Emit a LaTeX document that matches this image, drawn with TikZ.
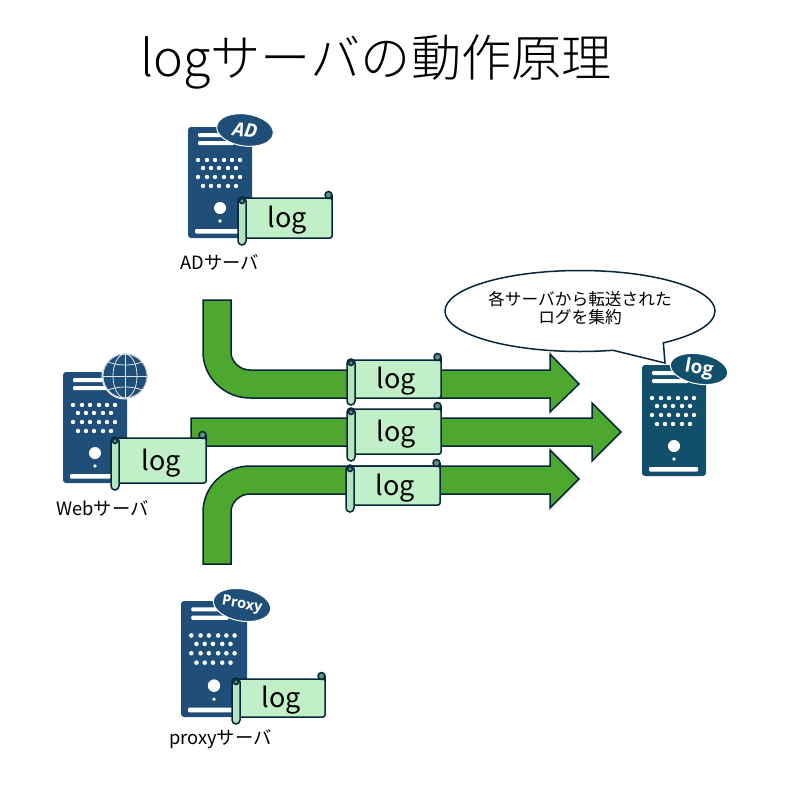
\documentclass[tikz,border=0pt]{standalone}
\usepackage{fontspec}
\setmainfont{Noto Sans CJK JP}
\newfontfamily\titlefont{Noto Sans CJK JP Light}
\newfontfamily\badgefont{Open Sans}
\usetikzlibrary{shapes.geometric,shapes.callouts}

\definecolor{linedark}{HTML}{05263A}
\definecolor{arrowgreen}{HTML}{4EA72E}
\definecolor{scrollgreen}{HTML}{C1F0C8}
\definecolor{rollgreen}{HTML}{B4E3BE}
\definecolor{curlgreen}{HTML}{5E8F7F}
\definecolor{serverblue}{HTML}{1F4E79}
\definecolor{logblue}{HTML}{124F6B}

\tikzset{
    bigarrow/.style={draw=linedark,fill=arrowgreen,line width=1.5pt,line join=miter},
    scrollline/.style={draw=linedark,line width=1.5pt},
    scrolltext/.style={inner sep=0pt,text=black,font=\fontsize{27}{27}\selectfont},
    badge/.style={ellipse,draw=white,line width=1pt,inner sep=0pt,text=white},
    serverlabel/.style={inner sep=0pt,font=\fontsize{18.3}{18.3}\selectfont}
}

% #1 name, #2 x, #3 y, #4 width, #5 height of the sheet
\newcommand{\logscroll}[5]{
    \begin{scope}[shift={(#2,#3)}]
        \path[scrollline,fill=scrollgreen,rounded corners=2pt] (4,1) rectangle (#4,#5);
        \filldraw[scrollline,fill=curlgreen] (#4-3.5,-2) circle (3.5);
        \draw[scrollline] (#4,-2) -- (#4,3);
        \path[scrollline,fill=rollgreen,rounded corners=4pt] (0,0) rectangle (8,#5+7);
        \filldraw[scrollline,fill=curlgreen] (4,4) circle (2.5);
        \node[scrolltext] (#1) at ({(#4+8)/2-1.5},{#5/2+3}) {log};
    \end{scope}
}

% #1 x, #2 y, #3 width, #4 height, #5 colour
\newcommand{\serverbox}[5]{
    \begin{scope}[shift={(#1,#2)},xscale=#3/64,yscale=#4/111]
        \fill[#5,rounded corners=3pt] (0,0) rectangle (64,111);
        \fill[white,rounded corners=1pt] (10,6) rectangle (46,10);
        \fill[white,rounded corners=1pt] (10,14) rectangle (46,18);
        \foreach \dotx in {10,19,27,36,44,52} {
            \fill[white] (\dotx,33) circle (2.2);
            \fill[white] (\dotx,50) circle (2.2);
        }
        \foreach \dotx in {15,23,31,40,48} {
            \fill[white] (\dotx,41) circle (2.2);
            \fill[white] (\dotx,59) circle (2.2);
        }
        \fill[white] (32,81) circle (6);
        \fill[white] (32,94) circle (1.8);
        \fill[white,rounded corners=1pt] (7,102) rectangle (56,106.5);
    \end{scope}
}

\begin{document}
\begin{tikzpicture}[x=1pt,y=-1pt]
    \useasboundingbox (0,0) rectangle (797,792);

    \node[inner sep=0pt,font=\titlefont\fontsize{50.2}{50.2}\selectfont] (title) at (376,62) {logサーバの動作原理};

    % big arrows
    \path[bigarrow] (203,300) -- (231,300) -- (231,352)
        .. controls (231,362) and (240,370) .. (250,370)
        -- (550,370) -- (550,354) -- (579,384) -- (550,412) -- (550,398) -- (250,398)
        .. controls (224,398) and (203,377) .. (203,352) -- cycle;
    \path[bigarrow] (191,418) -- (592,418) -- (592,403) -- (621,432) -- (592,461)
        -- (592,446) -- (191,446) -- cycle;
    \path[bigarrow] (203,564) -- (231,564) -- (231,512)
        .. controls (231,502) and (240,494) .. (250,494)
        -- (550,494) -- (550,508) -- (579,479) -- (550,450) -- (550,466) -- (250,466)
        .. controls (224,466) and (203,487) .. (203,512) -- cycle;

    % servers
    \serverbox{188}{127}{64}{111}{serverblue}
    \serverbox{63}{372}{64}{111}{serverblue}
    \serverbox{181}{601}{66}{116}{serverblue}
    \serverbox{642}{365}{64}{111}{logblue}

    \node[badge,fill=serverblue,minimum width=57,minimum height=32,rotate=-8,
        font=\badgefont\bfseries\itshape\fontsize{19}{19}\selectfont] (adbadge) at (245,130) {AD};
    \node[badge,fill=serverblue,minimum width=58,minimum height=32,rotate=-10,
        font=\badgefont\bfseries\fontsize{14.5}{14.5}\selectfont] (proxybadge) at (242,605) {Proxy};

    % globe
    \filldraw[draw=white,fill=serverblue,line width=1pt] (125,376) circle (23);
    \begin{scope}[draw=white!85!serverblue,line width=0.8pt]
        \draw (125,376) circle (22);
        \draw (125,376) ellipse (12 and 22);
        \draw (125,354) -- (125,398);
        \draw (103,376) -- (147,376);
        \draw (108,362) .. controls (118,366) and (132,366) .. (142,362);
        \draw (108,390) .. controls (118,386) and (132,386) .. (142,390);
    \end{scope}

    % log sheets
    \logscroll{adlog}{238}{197}{94}{41}
    \logscroll{weblog}{111}{437}{95}{46}
    \logscroll{pipelog1}{347}{359}{94}{39}
    \logscroll{pipelog2}{347}{408}{94}{46}
    \logscroll{pipelog3}{346}{465}{94}{40}
    \logscroll{proxylog}{232}{678}{93}{39}

    \node[serverlabel] (adname) at (220,262) {ADサーバ};
    \node[serverlabel] (webname) at (102.5,508) {Webサーバ};
    \node[serverlabel] (proxyname) at (220.5,739) {proxyサーバ};

    % speech bubble and its server
    \node[ellipse callout,draw=linedark,fill=white,line width=1.5pt,inner sep=0pt,
        minimum width=270,minimum height=81,callout pointer arc=24,
        callout absolute pointer={(665,363)}] (bubble) at (580,311) {};
    \node[inner sep=0pt,align=center,font=\fontsize{16.7}{20}\selectfont] (bubbletext) at (580,308)
        {各サーバから転送された\\[-2pt]ログを集約};
    \node[badge,fill=logblue,minimum width=58,minimum height=30,rotate=-10,
        font=\badgefont\bfseries\fontsize{19}{19}\selectfont] (logbadge) at (699,369) {log};
\end{tikzpicture}
\end{document}
